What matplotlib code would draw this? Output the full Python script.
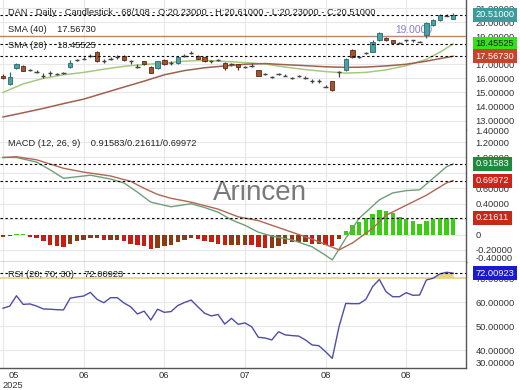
# ----------------------------------------------------------
# DAN daily chart: candles + SMA, MACD, RSI
# ----------------------------------------------------------
import matplotlib
matplotlib.use("Agg")
import matplotlib.pyplot as plt

plt.rcParams['font.family'] = ['Liberation Sans', 'DejaVu Sans']

# ------------------------------
# Data
# ------------------------------
opens = [16.20, 15.60, 16.70, 16.90, 16.57, 16.45, 16.20, 16.40, 16.30, 16.35,
         16.80, 17.30, 17.40, 17.60, 17.90, 17.20, 17.40, 17.50, 17.60, 17.20,
         16.80, 17.20, 16.80, 16.70, 17.30, 17.10, 17.10, 17.60, 17.80, 17.60,
         17.50, 17.20, 17.30, 17.10, 17.00, 17.00, 16.80, 16.90, 16.57, 16.30,
         16.10, 16.30, 16.20, 16.05, 16.15, 16.05, 15.80, 15.80, 15.40, 15.80,
         16.45, 16.60, 18.00, 17.50, 17.80, 17.90, 18.70, 18.90, 18.70, 18.50,
         18.70, 18.70, 18.60, 19.07, 19.80, 20.14, 20.43, 20.23]
closes = [16.02, 16.10, 17.05, 16.55, 16.57, 16.45, 16.20, 16.40, 16.30, 16.35,
          17.10, 17.30, 17.40, 17.60, 17.20, 17.20, 17.40, 17.50, 17.30, 17.20,
          16.80, 17.00, 16.40, 17.20, 17.00, 17.10, 17.50, 17.60, 17.80, 17.40,
          17.20, 17.20, 17.30, 16.70, 17.00, 16.80, 16.80, 16.90, 16.20, 16.30,
          16.10, 16.30, 16.20, 16.05, 16.15, 16.05, 15.80, 15.80, 15.40, 15.15,
          16.45, 17.40, 17.50, 17.50, 17.80, 18.60, 19.20, 18.70, 18.50, 18.50,
          18.70, 18.70, 18.60, 19.93, 20.14, 20.50, 20.43, 20.51]
highs = [16.30, 16.45, 17.10, 16.95, 16.68, 16.58, 16.35, 16.55, 16.40, 16.42,
         17.30, 17.38, 17.50, 17.75, 17.95, 17.35, 17.55, 17.65, 17.65, 17.30,
         17.00, 17.25, 16.85, 17.25, 17.35, 17.25, 17.55, 17.70, 17.95, 17.65,
         17.55, 17.30, 17.40, 17.15, 17.10, 17.05, 16.90, 17.10, 16.62, 16.35,
         16.15, 16.40, 16.30, 16.10, 16.22, 16.15, 15.95, 15.95, 15.50, 15.82,
         16.55, 17.45, 18.10, 17.60, 17.85, 18.70, 19.30, 18.95, 18.75, 18.55,
         18.75, 18.75, 18.65, 19.98, 20.25, 20.55, 20.55, 20.61]
lows = [15.95, 15.55, 16.65, 16.50, 16.50, 16.40, 16.05, 16.20, 16.25, 16.30,
        16.75, 17.22, 17.35, 17.55, 17.15, 17.10, 17.30, 17.40, 17.25, 17.00,
        16.70, 16.95, 16.35, 16.65, 16.95, 16.95, 17.05, 17.55, 17.75, 17.35,
        17.15, 17.10, 17.20, 16.60, 16.85, 16.60, 16.75, 16.80, 16.15, 16.25,
        16.05, 16.25, 16.15, 15.95, 16.10, 15.95, 15.70, 15.70, 15.35, 15.12,
        16.10, 16.55, 17.45, 17.45, 17.70, 17.85, 18.65, 18.65, 18.45, 18.45,
        18.60, 18.60, 18.55, 18.90, 19.75, 20.10, 20.40, 20.23]

sma_days = [0, 3, 6, 9, 12, 15, 18, 21, 24, 27, 30, 33, 36, 39, 42, 45, 48,
            51, 54, 57, 60, 63, 65, 67]
sma20 = [15.00, 15.60, 16.00, 16.25, 16.42, 16.65, 16.85, 16.98, 17.08, 17.22,
         17.28, 17.20, 17.12, 17.02, 16.80, 16.62, 16.48, 16.37, 16.42, 16.60,
         16.90, 17.35, 17.85, 18.455]
sma40 = [13.25, 13.55, 13.86, 14.20, 14.52, 14.95, 15.38, 15.80, 16.25, 16.55,
         16.75, 16.88, 17.00, 17.05, 16.97, 16.90, 16.82, 16.78, 16.80, 16.88,
         17.00, 17.22, 17.40, 17.567]

macd_days = [0, 2, 5, 7, 9, 11, 13, 16, 18, 20, 22, 25, 28, 30, 32, 34, 36,
             38, 40, 43, 46, 48, 49, 51, 53, 56, 58, 60, 62, 64, 66, 67]
macd_line = [1.00, 1.00, 0.94, 0.84, 0.73, 0.75, 0.77, 0.72, 0.67, 0.55, 0.42,
             0.36, 0.40, 0.35, 0.29, 0.19, 0.12, 0.03, -0.02, -0.07, -0.16,
             -0.27, -0.33, -0.05, 0.21, 0.45, 0.54, 0.57, 0.58, 0.73, 0.88, 0.916]
signal_days = [0, 2, 5, 9, 12, 16, 19, 21, 23, 25, 28, 32, 35, 38, 40, 42, 44,
               46, 48, 50, 52, 55, 57, 60, 63, 66, 67]
signal_line = [1.00, 1.01, 0.97, 0.86, 0.81, 0.76, 0.69, 0.60, 0.52, 0.47, 0.42,
               0.33, 0.23, 0.18, 0.12, 0.06, 0.00, -0.06, -0.13, -0.20, -0.11,
               0.08, 0.25, 0.38, 0.51, 0.67, 0.70]
macd_hist = [-0.03, -0.02, 0.01, 0.01, -0.03, -0.05, -0.09, -0.13, -0.15, -0.16,
             -0.12, -0.08, -0.07, -0.04, -0.04, -0.07, -0.07, -0.07, -0.09, -0.12,
             -0.14, -0.15, -0.19, -0.17, -0.15, -0.14, -0.10, -0.07, -0.05, -0.06,
             -0.08, -0.10, -0.12, -0.13, -0.13, -0.13, -0.13, -0.14, -0.16, -0.17,
             -0.17, -0.15, -0.12, -0.10, -0.10, -0.10, -0.12, -0.12, -0.13, -0.15,
             -0.06, 0.05, 0.12, 0.16, 0.21, 0.26, 0.32, 0.31, 0.28, 0.23,
             0.20, 0.17, 0.13, 0.17, 0.20, 0.22, 0.22, 0.216]

rsi = [57.4, 58.3, 62.6, 59.0, 59.2, 58.3, 57.1, 57.0, 56.8, 56.7,
       61.6, 62.1, 62.5, 64.0, 61.1, 59.7, 61.8, 61.8, 59.6, 58.0,
       55.0, 56.2, 52.5, 57.0, 55.7, 56.0, 58.5, 59.8, 60.8, 58.0,
       55.3, 54.2, 54.8, 50.8, 53.2, 50.7, 51.3, 49.7, 45.3, 45.0,
       44.2, 47.6, 46.3, 46.0, 45.8, 44.2, 42.1, 41.8, 39.3, 36.5,
       49.7, 59.4, 59.3, 59.3, 61.1, 66.4, 69.4, 64.3, 62.2, 62.2,
       63.9, 62.8, 62.9, 69.2, 69.9, 71.7, 72.4, 72.0]

month_ticks = [0, 12, 24, 36, 48, 60]
month_labels = ['05\n2025', '06', '06', '07', '08', '08']

price_ticks = [13, 14, 15, 16, 17, 19, 20, 21]
macd_ticks = [-0.2, 0, 0.4, 0.6, 1.0, 1.2]
rsi_ticks = [40, 50, 60, 70]

last_close = 20.51
sma20_last = 18.45525
sma40_last = 17.56730
macd_last, hist_last, signal_last = 0.91583, 0.21611, 0.69972
rsi_last = 72.00923
level_line = 19.0

# ------------------------------
# Helpers
# ------------------------------
W, H = 520, 390
GRID = '#e8e8e8'
SPINE = '#555555'
DASH = (0, (2.2, 2.2))
FS = 6.7


def fmt(v, pos=None):
    if abs(v) < 1e-9:
        return '0'
    return f'{v:.5f}'


def style_axes(ax):
    ax.set_facecolor('white')
    for s in ('left', 'top'):
        ax.spines[s].set_visible(False)
    for s in ('right', 'bottom'):
        ax.spines[s].set_color(SPINE)
        ax.spines[s].set_linewidth(1.0)
    ax.yaxis.tick_right()
    ax.yaxis.set_major_formatter(plt.FuncFormatter(fmt))
    ax.tick_params(axis='y', length=0, pad=7, labelsize=FS, colors='#333333')
    ax.tick_params(axis='x', length=0, pad=2, labelsize=FS, colors='#333333')
    ax.grid(True, color=GRID, lw=0.8)
    ax.set_axisbelow(True)


def tag(ax, y, text, fc, tc='white'):
    ax.annotate(text, xy=(1, y), xycoords=('axes fraction', 'data'),
                xytext=(7, 0), textcoords='offset points', ha='left',
                va='center', fontsize=FS, color=tc, zorder=20,
                annotation_clip=False,
                bbox=dict(boxstyle='square,pad=0.28', fc=fc, ec='none'))


def edge_label(ax, yfrac, text):
    # axis label squeezed to the panel edge
    ax.annotate(text, xy=(1, yfrac), xycoords='axes fraction',
                xytext=(7, 0), textcoords='offset points', ha='left',
                va='center', fontsize=FS, color='#333333',
                annotation_clip=False)


def px_axes(x0, y0, x1, y1, **kw):
    # pixel box (top-left origin) -> figure fraction
    return fig.add_axes([x0 / W, 1 - y1 / H, (x1 - x0) / W, (y1 - y0) / H], **kw)


# ------------------------------
# Figure
# ------------------------------
fig = plt.figure(figsize=(5.2, 3.9), dpi=100)
ax1 = px_axes(0, 0, 466, 129.5)
ax2 = px_axes(0, 130, 466, 262, sharex=ax1)
ax3 = px_axes(0, 262, 466, 368, sharex=ax1)
for a in (ax1, ax2, ax3):
    style_axes(a)

xs = list(range(len(closes)))

# ---- price panel ----
for i in xs:
    o, c, h, l = opens[i], closes[i], highs[i], lows[i]
    if abs(c - o) < 1e-6:
        ax1.vlines(i, l, h, color='#444444', lw=0.9, zorder=4)
        ax1.hlines(c, i - 0.32, i + 0.32, color='#444444', lw=1.0, zorder=4)
        continue
    up = c > o
    face = '#46a3a3' if up else '#a5522e'
    edge = '#2f6868' if up else '#5b2c16'
    ax1.vlines(i, l, h, color=edge, lw=0.9, zorder=4)
    ax1.bar(i, abs(c - o), bottom=min(o, c), width=0.66, color=face,
            edgecolor=edge, lw=0.6, zorder=5)

ax1.plot(sma_days, sma20, color='#a6c97e', lw=1.1, zorder=3)
ax1.plot(sma_days, sma40, color='#a0604e', lw=1.1, zorder=3)
ax1.axhline(level_line, color='#b48a70', lw=1.0, zorder=3)
ax1.text(58.3, level_line + 0.08, '19.0000', color='#7f7fd0', fontsize=7.4,
         ha='left', va='bottom', zorder=3)
for v in (last_close, sma20_last, sma40_last):
    ax1.axhline(v, color='black', lw=0.8, ls=DASH, zorder=6)

ax1.set_ylim(12.36, 21.57)
ax1.set_yticks(price_ticks)
ax1.tick_params(axis='x', labelbottom=False)
ax1.spines['bottom'].set_visible(False)

tag(ax1, last_close, '20.51000', '#3c9c9c')
tag(ax1, sma20_last, '18.45525', '#33e01a', '#222222')
tag(ax1, sma40_last, '17.56730', '#c4452e')

# ---- MACD panel ----
hist_colors = []
for i, v in enumerate(macd_hist):
    if v >= 0:
        hist_colors.append('#3ccc14')
    elif i > 0 and v < macd_hist[i - 1]:
        hist_colors.append('#c81e10')
    else:
        hist_colors.append('#8c3a12')
ax2.bar(xs, macd_hist, width=0.66, color=hist_colors, zorder=3)
ax2.plot(macd_days, macd_line, color='#6f9f7a', lw=1.0, zorder=4)
ax2.plot(signal_days, signal_line, color='#b26652', lw=1.0, zorder=4)
for v in (macd_last, signal_last, hist_last):
    ax2.axhline(v, color='black', lw=0.8, ls=DASH, zorder=6)
ax2.text(0.558, 0.52, 'Arincen', transform=ax2.transAxes, fontsize=20,
         color='#7a7a7a', ha='center', va='center', zorder=2)
ax2.set_ylim(-0.357, 1.357)
ax2.set_yticks(macd_ticks)
ax2.yaxis.grid(False)
for g in (-0.2, 0, 0.2, 0.4, 0.6, 0.8, 1.0, 1.2):
    ax2.axhline(g, color=GRID, lw=0.8, zorder=0)
ax2.tick_params(axis='x', labelbottom=False)
tag(ax2, macd_last, '0.91583', '#1f8a3c')
tag(ax2, signal_last, '0.69972', '#cc2418')
tag(ax2, hist_last, '0.21611', '#c8281a')
edge_label(ax2, 0.985, '1.40000')
edge_label(ax2, 0.03, '-0.40000')

# ---- RSI panel ----
ax3.axhline(70, color='#e6d58a', lw=1.2, zorder=2)
ax3.fill_between(xs, 70, rsi, where=[r > 70 for r in rsi], interpolate=True,
                 color='#ecd27a', lw=0, zorder=2)
ax3.plot(xs, rsi, color='#4e4ea6', lw=1.0, zorder=4)
ax3.axhline(rsi_last, color='black', lw=0.8, ls=DASH, zorder=6)
ax3.set_ylim(32.5, 76.67)
ax3.set_yticks(rsi_ticks)
tag(ax3, rsi_last, '72.00923', '#1a1ad0')
edge_label(ax3, 0.04, '30.00000')

ax3.set_xlim(-0.45, 68.9)
ax3.set_xticks(month_ticks)
ax3.set_xticklabels(month_labels)
first = ax3.get_xticklabels()[0]
first.set_horizontalalignment('left')
first.set_multialignment('center')

# ---- headers ----
def head(x, y, s, **kw):
    fig.text(x / W, 1 - y / H, s, fontsize=FS, color='#222222',
             va='center', ha='left', **kw)

head(8, 12.5, 'DAN - Daily - Candlestick - 68/108 - O:20.23000 - H:20.61000 - '
     'L:20.23000 - C:20.51000')
head(8, 29.5, 'SMA (40)    17.56730')
head(8, 45, 'SMA (20)    18.45525')
head(8, 143, 'MACD (12, 26, 9)    0.91583/0.21611/0.69972')
head(8, 274.5, 'RSI (20; 70; 30)    72.00923')

fig.savefig('out.png', dpi=100, facecolor='white')
